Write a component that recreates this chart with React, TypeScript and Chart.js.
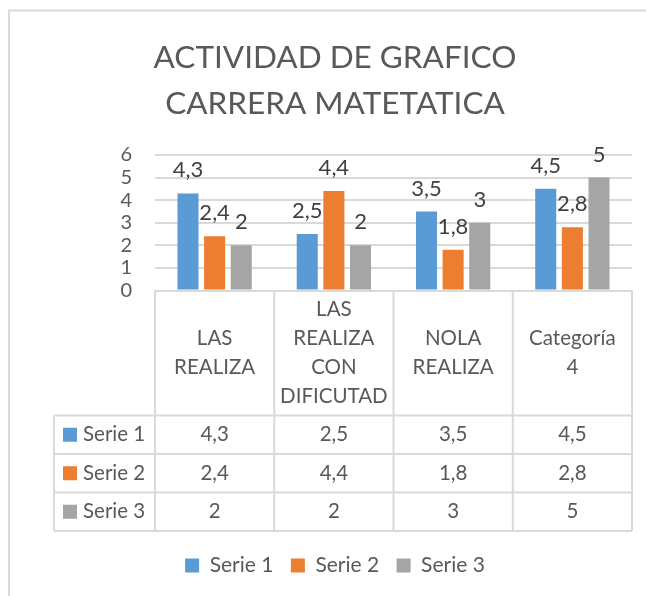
import React, { useEffect, useRef } from "react";
import { Chart, registerables } from "chart.js";

Chart.register(...registerables);

const categories: string[][] = [
  ["LAS", "REALIZA"],
  ["LAS", "REALIZA", "CON", "DIFICUTAD"],
  ["NOLA", "REALIZA"],
  ["Categoría", "4"],
];
const seriesNames = ["Serie 1", "Serie 2", "Serie 3"];
const serie1 = [4.3, 2.5, 3.5, 4.5];
const serie2 = [2.4, 4.4, 1.8, 2.8];
const serie3 = [2, 2, 3, 5];
const seriesColors = ["#5B9BD5", "#ED7D31", "#A5A5A5"];
const yTicks = { min: 0, max: 6, step: 1 };
const titleLines = ["ACTIVIDAD DE GRAFICO", "CARRERA MATETATICA"];

const FONT = "Lato, 'Open Sans', sans-serif";
const TEXT = "#595959";
const LINE = "#d9d9d9";
const HEADER_H = 125;
const ROW_H = 38.5;
const TABLE_LEFT = 54;
const X_AXIS_H = 247;

const fmt = (v: number) => String(v).replace(".", ",");

const borderPlugin = {
  id: "frame",
  beforeDraw(chart: any) {
    const { ctx, width, height } = chart;
    ctx.save();
    ctx.fillStyle = "#ffffff";
    ctx.fillRect(0, 0, width, height);
    ctx.strokeStyle = LINE;
    ctx.lineWidth = 2;
    ctx.beginPath();
    ctx.moveTo(9, height);
    ctx.lineTo(9, 10.5);
    ctx.lineTo(width, 10.5);
    ctx.stroke();
    ctx.restore();
  },
};

const labelPlugin = {
  id: "barLabels",
  afterDatasetsDraw(chart: any) {
    const { ctx } = chart;
    ctx.save();
    ctx.font = `22px ${FONT}`;
    ctx.fillStyle = "#404040";
    ctx.textAlign = "center";
    ctx.textBaseline = "middle";
    chart.data.datasets.forEach((ds: any, di: number) => {
      const meta = chart.getDatasetMeta(di);
      meta.data.forEach((el: any, i: number) => {
        ctx.fillText(fmt(ds.data[i]), el.x, el.y - 23);
      });
    });
    ctx.restore();
  },
};

const tablePlugin = {
  id: "dataTable",
  afterDraw(chart: any) {
    const { ctx, chartArea } = chart;
    const xs = chart.scales.x;
    const n = categories.length;
    const cw = (chartArea.right - chartArea.left) / n;
    const top = chartArea.bottom;
    const hb = top + HEADER_H;
    const bottom = hb + ROW_H * seriesNames.length;
    ctx.save();
    ctx.strokeStyle = LINE;
    ctx.lineWidth = 2;
    ctx.beginPath();
    for (let i = 0; i <= n; i++) {
      const x = i < n ? xs.getPixelForValue(i) - cw / 2 : xs.getPixelForValue(n - 1) + cw / 2;
      ctx.moveTo(x, top);
      ctx.lineTo(x, bottom);
    }
    ctx.moveTo(TABLE_LEFT, hb);
    ctx.lineTo(TABLE_LEFT, bottom);
    for (let r = 0; r <= seriesNames.length; r++) {
      const y = hb + r * ROW_H;
      ctx.moveTo(TABLE_LEFT, y);
      ctx.lineTo(chartArea.right, y);
    }
    ctx.stroke();

    ctx.fillStyle = TEXT;
    ctx.textAlign = "center";
    ctx.textBaseline = "middle";
    ctx.font = `20.5px ${FONT}`;
    const lh = 29;
    categories.forEach((lines, i) => {
      const cx = xs.getPixelForValue(i);
      const cy = top + HEADER_H / 2;
      lines.forEach((ln, j) => {
        ctx.fillText(ln, cx, cy + (j - (lines.length - 1) / 2) * lh);
      });
    });
    const rows = [serie1, serie2, serie3];
    rows.forEach((vals, r) => {
      const cy = hb + r * ROW_H + ROW_H / 2;
      vals.forEach((v, i) => {
        ctx.fillText(fmt(v), xs.getPixelForValue(i), cy);
      });
      ctx.fillStyle = seriesColors[r];
      ctx.fillRect(63, cy - 7, 14, 14);
      ctx.fillStyle = TEXT;
      ctx.textAlign = "left";
      ctx.fillText(seriesNames[r], 83, cy);
      ctx.textAlign = "center";
    });
    ctx.restore();
  },
};

export default function App() {
  const ref = useRef<HTMLCanvasElement | null>(null);
  useEffect(() => {
    if (!ref.current) return;
    const chart = new Chart(ref.current, {
      type: "bar",
      data: {
        labels: categories.map((c) => c.join(" ")),
        datasets: [serie1, serie2, serie3].map((d, i) => ({
          label: seriesNames[i],
          data: d,
          backgroundColor: seriesColors[i],
          categoryPercentage: 0.67,
          barPercentage: 0.79,
        })),
      },
      options: {
        responsive: false,
        animation: false,
        layout: { padding: { left: 38, right: 14, top: 0, bottom: 10 } },
        plugins: {
          title: {
            display: true,
            text: titleLines,
            color: TEXT,
            font: { family: FONT, size: 31.5, weight: "normal", lineHeight: 1.46 },
            padding: { top: 34.5, bottom: 28.5 },
          },
          legend: {
            position: "bottom",
            labels: {
              boxWidth: 14,
              boxHeight: 14,
              color: TEXT,
              padding: 17.5,
              font: { family: FONT, size: 21 },
            },
          },
          tooltip: { enabled: false },
        },
        scales: {
          x: {
            ticks: { display: false },
            grid: { display: false },
            border: { display: true, color: LINE, width: 2 },
            afterFit(scale: any) {
              scale.height = X_AXIS_H;
            },
          },
          y: {
            min: yTicks.min,
            max: yTicks.max,
            ticks: {
              stepSize: yTicks.step,
              autoSkip: false,
              color: TEXT,
              padding: 23,
              font: { family: FONT, size: 20 },
            },
            grid: { color: LINE, lineWidth: 2, drawTicks: false },
            border: { display: false },
            afterFit(scale: any) {
              scale.width = 117;
            },
          },
        },
      },
      plugins: [borderPlugin, labelPlugin, tablePlugin],
    });
    return () => chart.destroy();
  }, []);
  return (
    <canvas
      ref={ref}
      width={646}
      height={596}
      style={{ position: "absolute", left: 0, top: 0, display: "block" }}
    />
  );
}
